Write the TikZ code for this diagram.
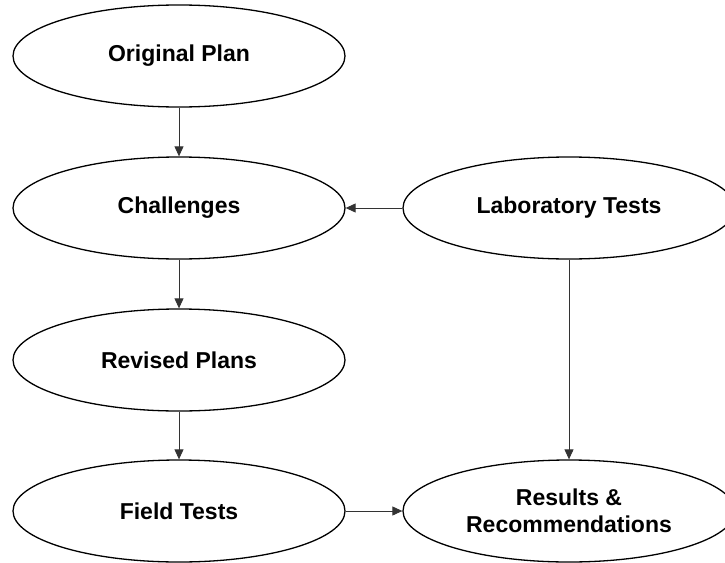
\documentclass[tikz,border=0pt]{standalone}
\usepackage{fontspec}
\setmainfont{Liberation Sans}
\usepackage{tikz}
\usetikzlibrary{shapes.geometric, arrows.meta}

\begin{document}
\begin{tikzpicture}[x=1pt, y=-1pt, every node/.style={ellipse, draw=black, line width=1.3pt, minimum width=332pt, minimum height=102pt, inner sep=0pt, align=center, font=\fontsize{23}{27}\selectfont\bfseries}, every path/.style={draw=black!80, line width=0.9pt}, >={Triangle[length=10pt, width=9pt]}]
				\useasboundingbox[draw=none] (0,0) rectangle (725,562);
				
				\node (plan) at (179,56){Original Plan};
				\node (chal) at (179,208){Challenges};
				\node (rev) at (179,360){Revised Plans};
				\node (field) at (179,511){Field Tests};
				\node (lab) at (569,208){Laboratory Tests};
				\node (res) at (569,511){Results \&\\Recommendations};
				
				\path (plan) edge[->] (chal);
				\path (chal) edge[->] (rev);
				\path (rev) edge[->] (field);
				\path (lab) edge[->] (chal);
				\path (field) edge[->] (res);
				\path (lab) edge[->] (res);
				\end{tikzpicture}
\end{document}
